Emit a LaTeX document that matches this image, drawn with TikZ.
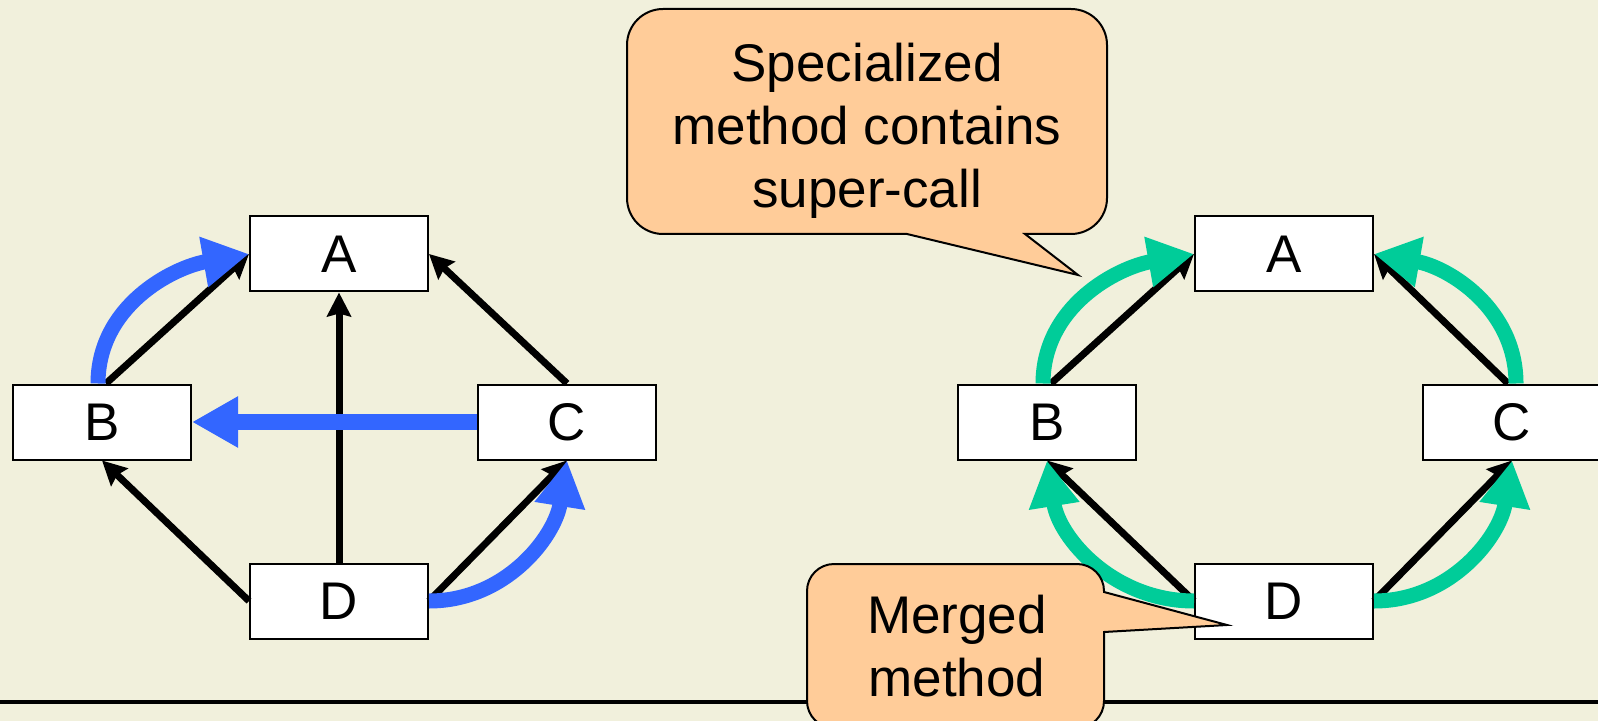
\documentclass[tikz,border=0pt]{standalone}
\usepackage{fontspec}
\setmainfont{Liberation Sans}
\usetikzlibrary{arrows.meta,positioning}

\definecolor{slidebg}{HTML}{F1F0DC}
\definecolor{notefill}{HTML}{FFCC99}
\definecolor{lookupblue}{HTML}{3366FF}
\definecolor{mergegreen}{HTML}{00CC99}

\begin{document}
\begin{tikzpicture}[x=0.5pt, y=-0.5pt, on grid,
    box/.style={draw, line width=1pt, fill=white, minimum width=89pt, minimum height=37.5pt, font=\fontsize{26.5}{32}\selectfont},
    inherit/.style={-{Stealth[length=12pt, width=12pt, inset=1.5pt]}, line width=3.5pt},
    flow/.style={-{Triangle[length=23pt, width=24pt]}, line width=7.5pt},
    note/.style={draw, line width=1pt, fill=notefill},
    notetext/.style={align=center, font=\fontsize{26.5}{31.5}\selectfont}]

    % Background
    \fill[slidebg] (0,0) rectangle (1598,721);
    \clip (0,0) rectangle (1598,721);

    % Left hierarchy
    \node[box] (lA) at (339,254) {A};
    \node[box, below left=84pt and 118.5pt of lA] (lB) {B};
    \node[box, below right=84pt and 114pt of lA] (lC) {C};
    \node[box, below=173.5pt of lA] (lD) {D};

    % Right hierarchy
    \node[box] (rA) at (1284,254) {A};
    \node[box, below left=84pt and 118.5pt of rA] (rB) {B};
    \node[box, below right=84pt and 114pt of rA] (rC) {C};
    \node[box, below=173.5pt of rA] (rD) {D};

    % Inheritance links
    \path[inherit]
    ([xshift=2pt]lB.north) edge (lA.west)
    (lC.north) edge (lA.east)
    (lD.north) edge (lA.south)
    (lD.west) edge (lB.south)
    (lD.east) edge (lC.south)
    ([xshift=2pt]rB.north) edge (rA.west)
    ([xshift=-2pt]rC.north) edge (rA.east)
    (rD.west) edge (rB.south)
    (rD.east) edge (rC.south);

    % Lookup (left)
    \path[flow, lookupblue]
    ([xshift=-2pt]lB.north) edge[out=90, in=190] (lA.west)
    (lC.west) edge[line width=8pt] (lB.east)
    (lD.east) edge[out=0, in=261] (lC.south);

    % Merged lookup (right)
    \path[flow, mergegreen]
    ([xshift=-2pt]rB.north) edge[out=90, in=190] (rA.west)
    ([xshift=2pt]rC.north) edge[out=90, in=-10] (rA.east)
    (rD.west) edge[out=180, in=-81] (rB.south)
    (rD.east) edge[out=0, in=261] (rC.south);

    % Rule
    \coordinate (ruleL) at (0,702);
    \coordinate (ruleR) at (1598,702);
    \draw[line width=2pt] (ruleL) -- (ruleR);

    % Callouts
    \draw[note] (907,234) -- (1078,275) -- (1025,234) -- (1071,234)
    arc[start angle=270, end angle=360, radius=18pt] -- (1107,45)
    arc[start angle=0, end angle=90, radius=18pt] -- (663,9)
    arc[start angle=90, end angle=180, radius=18pt] -- (627,198)
    arc[start angle=180, end angle=270, radius=18pt] -- cycle;
    \node[notetext] (spec) at (867,131) {Specialized\\method contains\\super-call};

    \draw[note] (1104,592) -- (1227,625) -- (1104,632) -- (1104,701)
    arc[start angle=0, end angle=-90, radius=13.5pt] -- (834,728)
    arc[start angle=270, end angle=180, radius=13.5pt] -- (807,591)
    arc[start angle=180, end angle=90, radius=13.5pt] -- (1077,564)
    arc[start angle=90, end angle=0, radius=13.5pt] -- cycle;
    \node[notetext] (merged) at (957,646) {Merged\\method};

\end{tikzpicture}
\end{document}
